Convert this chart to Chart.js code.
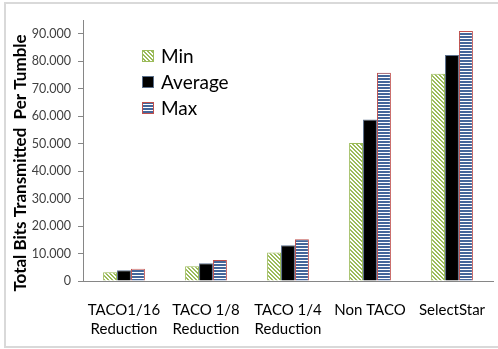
<!DOCTYPE html>
<html>
<head>
<meta charset="utf-8">
<script src="https://cdn.jsdelivr.net/npm/chart.js@4.4.0/dist/chart.umd.min.js"></script>
<style>
html,body{margin:0;padding:0;background:#fff}
#wrap{width:498px;height:349px;position:relative}
</style>
</head>
<body>
<div id="wrap"><canvas id="c" width="498" height="349"></canvas></div>
<script>
// DATA
const categories=[['TACO1/16','Reduction'],['TACO 1/8','Reduction'],['TACO 1/4','Reduction'],'Non TACO','SelectStar'];
const minVals=[3200,5400,10400,50200,75400];
const avgVals=[3900,6500,13000,58800,82300];
const maxVals=[4500,7600,15200,75800,91000];
const yTicks=[0,10000,20000,30000,40000,50000,60000,70000,80000,90000];
const yTitle='Total Bits Transmitted  Per Tumble';

// PATTERNS
function diagPattern(){
  const c=document.createElement('canvas');c.width=4;c.height=4;
  const x=c.getContext('2d');
  x.fillStyle='#fff';x.fillRect(0,0,4,4);
  x.fillStyle='#9bbb59';
  for(let y=0;y<4;y++){x.fillRect(y,y,1,1);x.fillRect((y+1)%4,y,1,1)}
  return x.createPattern(c,'repeat');
}
function hPattern(){
  const c=document.createElement('canvas');c.width=3;c.height=3;
  const x=c.getContext('2d');
  x.fillStyle='#fff';x.fillRect(0,0,3,3);
  x.fillStyle='#44669a';x.fillRect(0,0,3,2);
  return x.createPattern(c,'repeat');
}

const FONT='Lato, "Open Sans", sans-serif';

// frame, legend and y title
const extras={
  id:'extras',
  beforeDraw(chart){
    const ctx=chart.ctx;
    ctx.save();
    ctx.strokeStyle='#d9d9d9';ctx.lineWidth=2;
    ctx.beginPath();
    ctx.moveTo(520,3);ctx.lineTo(5,3);ctx.lineTo(5,347);ctx.lineTo(520,347);
    ctx.stroke();
    ctx.restore();
  },
  afterDraw(chart){
    const ctx=chart.ctx;
    ctx.save();
    // y title
    ctx.translate(21,163);
    ctx.rotate(-Math.PI/2);
    ctx.font='bold 17px '+FONT;
    ctx.fillStyle='#000';
    ctx.textAlign='center';ctx.textBaseline='middle';
    ctx.fillText(yTitle,0,0);
    ctx.restore();
    // legend
    ctx.save();
    ctx.font='19px '+FONT;
    ctx.textBaseline='middle';
    chart.data.datasets.forEach((ds,i)=>{
      const y=56+i*26;
      ctx.fillStyle=ds.backgroundColor;
      ctx.fillRect(142,y-6,12,12);
      ctx.strokeStyle=ds.borderColor;ctx.lineWidth=1;
      ctx.strokeRect(142.5,y-5.5,11,11);
      ctx.fillStyle='#000';
      ctx.fillText(ds.label,161,y+1);
    });
    ctx.restore();
  }
};

new Chart(document.getElementById('c'),{
  type:'bar',
  data:{
    labels:categories,
    datasets:[
      {label:'Min',data:minVals,backgroundColor:diagPattern(),borderColor:'#9bbb59',borderWidth:1},
      {label:'Average',data:avgVals,backgroundColor:'#000',borderColor:'#5b6f8a',borderWidth:1},
      {label:'Max',data:maxVals,backgroundColor:hPattern(),borderColor:'#c0504d',borderWidth:1}
    ]
  },
  options:{
    responsive:false,animation:false,
    layout:{padding:{left:6,top:20,right:5,bottom:0}},
    categoryPercentage:0.51,barPercentage:1,
    plugins:{legend:{display:false},tooltip:{enabled:false}},
    scales:{
      x:{
        grid:{display:false},
        border:{color:'#868686',width:1},
        ticks:{color:'#000',font:{family:FONT,size:15,lineHeight:1.27},padding:12,maxRotation:0,autoSkip:false},
        afterFit(s){s.height=68}
      },
      y:{
        min:0,max:95000,
        grid:{drawOnChartArea:false,drawTicks:true,tickLength:5,color:'#868686'},
        border:{color:'#868686',width:1},
        ticks:{color:'#404040',font:{family:FONT,size:12.5},padding:7,
          callback:v=>v.toLocaleString('de-DE')},
        afterBuildTicks(s){s.ticks=yTicks.map(v=>({value:v}))},
        afterFit(s){s.width=77}
      }
    }
  },
  plugins:[extras]
});
</script>
</body>
</html>
